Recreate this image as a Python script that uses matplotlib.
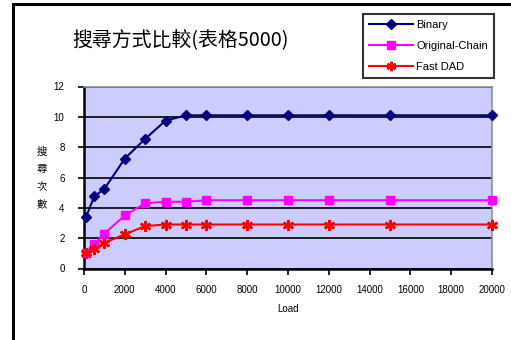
import numpy as np
import matplotlib.pyplot as plt
from matplotlib.patches import Rectangle

plt.rcParams['font.family'] = ['Liberation Sans', 'Noto Sans CJK TC', 'DejaVu Sans']

load = [100, 500, 1000, 2000, 3000, 4000, 5000, 6000, 8000, 10000, 12000, 15000, 20000]
binary = [3.4, 4.75, 5.25, 7.25, 8.55, 9.75, 10.1, 10.1, 10.1, 10.1, 10.1, 10.1, 10.1]
orig_chain = [1.05, 1.6, 2.3, 3.5, 4.3, 4.4, 4.4, 4.5, 4.5, 4.5, 4.5, 4.5, 4.5]
fast_dad = [1.0, 1.3, 1.7, 2.25, 2.8, 2.9, 2.9, 2.9, 2.9, 2.9, 2.9, 2.9, 2.9]

W, H = 511, 340
fig = plt.figure(figsize=(W / 100, H / 100), dpi=100, facecolor='white')

# outer chart frame (runs off the right and bottom edge)
fig.patches.append(Rectangle((12.5 / W, -0.1), 1.2, 1 - 4.5 / H + 0.1, transform=fig.transFigure,
                             fill=False, edgecolor='black', lw=2.2, zorder=0))

ax = fig.add_axes([84 / W, 1 - 268.5 / H, (492 - 84) / W, (268.5 - 86.5) / H])
ax.set_facecolor('#ccccff')

ax.plot(load, binary, color='#000080', lw=1.5, marker='D', ms=5.5, mfc='#000080', mec='#000080',
        label='Binary', zorder=3, clip_on=False)
ax.plot(load, orig_chain, color='#ff00ff', lw=1.5, marker='s', ms=6, mfc='#ff00ff', mec='#ff00ff',
        label='Original-Chain', zorder=3, clip_on=False)
ax.plot(load, fast_dad, color='#ff0000', lw=1.5, marker=(6, 2, 0), ms=8, mew=1.8, mec='#ff0000',
        label='Fast DAD', zorder=3, clip_on=False)

ax.set_xlim(0, 20000)
ax.set_ylim(0, 12)
ax.set_xticks(np.arange(0, 20001, 2000))
ax.set_yticks(np.arange(0, 13, 2))
ax.grid(axis='y', color='black', lw=1.2, zorder=1)
ax.set_axisbelow(True)

for s in ['left', 'bottom']:
    ax.spines[s].set_color('black')
    ax.spines[s].set_linewidth(1.8)
for s in ['right', 'top']:
    ax.spines[s].set_color('#909090')
    ax.spines[s].set_linewidth(1.2)

ax.tick_params(axis='both', labelsize=7, color='black', width=1.2, length=4, direction='out')
ax.tick_params(axis='x', pad=8)
ax.tick_params(axis='y', pad=10)
ax.set_xlabel('Load', fontsize=7, labelpad=6)

fig.text(42 / W, 1 - 178 / H, '搜\n尋\n次\n數', ha='center', va='center', fontsize=7.5,
         linespacing=1.9, family=['Noto Sans CJK TC'])
fig.text(72 / W, 1 - 40 / H, '搜尋方式比較(表格5000)', ha='left', va='center', fontsize=14.3,
         family=['Noto Sans CJK TC', 'Liberation Sans'])

leg = fig.legend(loc='upper left', bbox_to_anchor=(357 / W, 1 - 8 / H), fontsize=8,
                 frameon=True, fancybox=False, edgecolor='black', facecolor='white',
                 handlelength=4.0, borderpad=0.55, labelspacing=1.0, handletextpad=0.3,
                 markerscale=0.85)
leg.get_frame().set_linewidth(1.5)

fig.savefig('out.png', dpi=100)
